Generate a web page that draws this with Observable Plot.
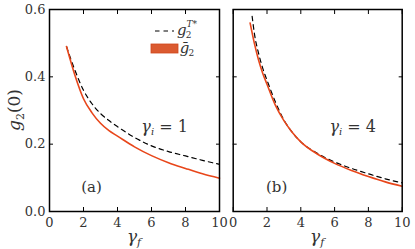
<!DOCTYPE html>
<html><head><meta charset="utf-8">
<script src="https://cdn.jsdelivr.net/npm/d3@7"></script>
<script src="https://cdn.jsdelivr.net/npm/@observablehq/plot@0.6"></script>
<style>
body{margin:0;background:#fff;}
#wrap{position:relative;width:415px;height:249px;background:#fff;}
#wrap svg{position:absolute;left:0;top:0;}
#wrap svg text{font-family:"DejaVu Serif", "Liberation Serif", serif;}
</style></head><body><div id="wrap"></div>
<script>
// Panel (a): gamma_i = 1
const gfA_T = [1, 1.5, 2, 2.5, 3, 3.5, 4, 5, 6, 7, 8, 9, 10];
const gA_T  = [0.49, 0.419, 0.36, 0.32, 0.291, 0.27, 0.252, 0.22, 0.195, 0.178, 0.165, 0.152, 0.14];
const gfA_B = [1, 1.5, 2, 2.5, 3, 3.5, 4, 5, 6, 7, 8, 9, 10];
const gA_B  = [0.49, 0.404, 0.335, 0.293, 0.262, 0.24, 0.224, 0.192, 0.166, 0.145, 0.128, 0.112, 0.099];
// Panel (b): gamma_i = 4
const gfB_T = [1.12, 1.25, 1.5, 1.75, 2, 2.5, 3, 3.5, 4, 5, 6, 7, 8, 9, 10];
const gB_T  = [0.58, 0.53, 0.47, 0.425, 0.39, 0.325, 0.272, 0.235, 0.207, 0.172, 0.147, 0.128, 0.112, 0.097, 0.085];
const gfB_B = [1, 1.25, 1.5, 1.75, 2, 2.5, 3, 3.5, 4, 5, 6, 7, 8, 9, 10];
const gB_B  = [0.56, 0.5, 0.45, 0.41, 0.378, 0.315, 0.27, 0.235, 0.207, 0.17, 0.143, 0.122, 0.104, 0.088, 0.075];

const xTicks = [0, 2, 4, 6, 8, 10];
const yTicks = [0.0, 0.2, 0.4, 0.6];
const panelTags = ["(a)", "(b)"];
const gammaI = [1, 4];
const tagPos = [[2.5, 0.068], [2.6, 0.068]];
const gammaPos = [[6.8, 0.25], [7.1, 0.25]];

const ORANGE = "#e8461a";
const FONT = "DejaVu Serif";
const DASH = "4.5,4";
const zip = (xs, ys) => xs.map((x, i) => ({x, y: ys[i]}));

function panel(idx, left, right, T, B, showY) {
  const plot = Plot.plot({
    width: 415, height: 249,
    marginLeft: left, marginRight: 415 - right, marginTop: 9, marginBottom: 38,
    style: {background: "transparent", fontFamily: FONT, fontSize: "13px", color: "#333", overflow: "visible"},
    x: {domain: [0, 10]},
    y: {domain: [0, 0.6]},
    marks: [
      Plot.axisX(xTicks, {anchor: "bottom", tickSize: -4, tickPadding: 10, label: null, tickFormat: d => d, stroke: "#000"}),
      Plot.axisX(xTicks, {anchor: "top", tickSize: -4, label: null, tickFormat: () => "", stroke: "#000"}),
      Plot.axisY(yTicks, {anchor: "left", tickSize: -4, tickPadding: 8, label: null, tickFormat: showY ? d3.format(".1f") : () => "", stroke: "#000"}),
      Plot.axisY(yTicks, {anchor: "right", tickSize: -4, label: null, tickFormat: () => "", stroke: "#000"}),
      Plot.line(T, {x: "x", y: "y", stroke: "#000", strokeWidth: 1.2, strokeDasharray: DASH, curve: "monotone-x"}),
      Plot.line(B, {x: "x", y: "y", stroke: ORANGE, strokeWidth: 1.6, curve: "monotone-x"}),
      Plot.frame({stroke: "#000", strokeWidth: 1.5})
    ]
  });
  document.getElementById("wrap").appendChild(plot);
  const sx = plot.scale("x"), sy = plot.scale("y");
  const svg = d3.select(plot);
  const g = svg.append("g").attr("fill", "#333");
  g.append("text").attr("x", sx.apply(tagPos[idx][0])).attr("y", sy.apply(tagPos[idx][1]))
    .attr("text-anchor", "middle").attr("dominant-baseline", "middle").attr("font-size", 15).text(panelTags[idx]);
  const t = g.append("text").attr("x", sx.apply(gammaPos[idx][0])).attr("y", sy.apply(gammaPos[idx][1]) + 5)
    .attr("text-anchor", "middle").attr("font-size", 16);
  t.append("tspan").attr("font-style", "italic").text("γ");
  t.append("tspan").attr("font-style", "italic").attr("font-size", 10).attr("dy", 3).text("i");
  t.append("tspan").attr("dy", -3).text(" = " + gammaI[idx]);
  const xl = g.append("text").attr("x", (left + right) / 2).attr("y", 242).attr("text-anchor", "middle").attr("font-size", 17);
  xl.append("tspan").attr("font-style", "italic").text("γ");
  xl.append("tspan").attr("font-style", "italic").attr("font-size", 11).attr("dy", 4).text("f");
  return {plot, sx, sy, g};
}

const A = panel(0, 49, 219, zip(gfA_T, gA_T), zip(gfA_B, gA_B), true);
const Bp = panel(1, 232.7, 401.7, zip(gfB_T, gB_T), zip(gfB_B, gB_B), false);

const yl = A.g.append("text").attr("transform", "translate(20,110) rotate(-90)").attr("text-anchor", "middle").attr("font-size", 17);
yl.append("tspan").attr("font-style", "italic").text("g");
yl.append("tspan").attr("font-size", 11).attr("dy", 4).text("2");
yl.append("tspan").attr("dy", -4).text("(0)");

const lg = A.g.append("g");
lg.append("line").attr("x1", 155).attr("x2", 174).attr("y1", 31).attr("y2", 31)
  .attr("stroke", "#000").attr("stroke-width", 1.2).attr("stroke-dasharray", DASH);
const l1 = lg.append("text").attr("x", 187).attr("y", 35).attr("font-size", 15);
l1.append("tspan").attr("font-style", "italic").text("g");
l1.append("tspan").attr("font-size", 9).attr("dx", -1).attr("dy", 3).text("2");
l1.append("tspan").attr("font-style", "italic").attr("font-size", 9).attr("dx", -5).attr("dy", -11).text("T*");
lg.append("rect").attr("x", 151).attr("y", 44).attr("width", 27).attr("height", 9)
  .attr("fill", "#db5a30").attr("stroke", "#d0461c").attr("stroke-width", 0.8);
const l2 = lg.append("text").attr("x", 187).attr("y", 53).attr("font-size", 15);
l2.append("tspan").attr("font-style", "italic").text("g\u0304");
l2.append("tspan").attr("font-size", 9).attr("dx", -1).attr("dy", 3).text("2");
</script>
</body></html>
